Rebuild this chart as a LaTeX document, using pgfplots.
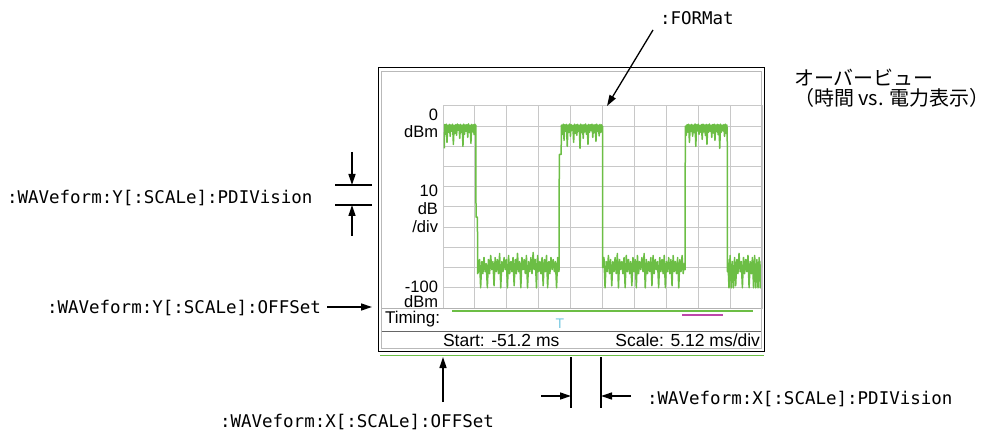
\documentclass[border=0pt]{standalone}
\usepackage{fontspec}
\setmainfont{Liberation Sans}
\newfontfamily\mono{DejaVu Sans Mono}
\newfontfamily\jp{Noto Sans CJK JP}
\usepackage{pgfplots}
\pgfplotsset{compat=1.18}
\usetikzlibrary{arrows.meta}
\definecolor{trace}{RGB}{108,190,69}
\definecolor{gridc}{RGB}{200,200,200}
\definecolor{mag}{RGB}{190,70,170}
\definecolor{cyt}{RGB}{120,200,225}
\begin{document}
\begin{tikzpicture}
\path[use as bounding box] (0pt,0pt) rectangle (1008pt,-435pt);
\begin{axis}[at={(443pt,-308pt)}, anchor=south west, scale only axis,
  width=319pt, height=202pt, xmin=0, xmax=10, ymin=-100, ymax=0,
  xtick={0,1,...,10}, ytick={-100,-90,...,0}, xticklabels={}, yticklabels={},
  grid=major, major tick length=0pt,
  grid style={gridc, line width=1pt}, axis line style={gridc, line width=1pt}]
\addplot[trace, line width=1.5pt, line join=round] coordinates {
(0.04,-21)
(0.05,-9.2)(0.075,-14)(0.1,-9.0)(0.125,-18)(0.15,-9.5)(0.175,-13)(0.2,-9.1)(0.225,-15)(0.25,-9.4)(0.275,-12.5)
(0.3,-9.0)(0.325,-19)(0.35,-9.6)(0.375,-13.5)(0.4,-9.2)(0.425,-14.5)(0.45,-8.9)(0.475,-12)(0.5,-9.3)(0.525,-16)
(0.55,-9.1)(0.575,-13)(0.6,-9.5)(0.625,-20)(0.65,-9.0)(0.675,-14)(0.7,-9.4)(0.725,-12.5)(0.75,-9.2)(0.775,-15.5)
(0.8,-8.9)(0.825,-13)(0.85,-9.6)(0.875,-18.5)(0.9,-9.1)(0.925,-12.8)(0.95,-9.3)(0.975,-14.2)(1.0,-9.0)(1.025,-13)
(1.03,-9.5)(1.035,-55)(1.08,-55)(1.085,-83)
(1.11,-82)(1.145,-76)(1.18,-90)(1.215,-77)(1.25,-83)(1.285,-75)(1.32,-82)(1.355,-78)(1.39,-90)(1.425,-76)
(1.46,-83)(1.495,-74)(1.53,-81)(1.565,-77)(1.60,-89)(1.635,-75)(1.67,-82)(1.705,-76)(1.74,-83)(1.775,-73)
(1.81,-90)(1.845,-77)(1.88,-82)(1.915,-75)(1.95,-81)(1.985,-76)(2.02,-90)(2.055,-74)(2.09,-83)(2.125,-77)
(2.16,-82)(2.195,-75)(2.23,-89)(2.265,-76)(2.30,-83)(2.335,-73)(2.37,-82)(2.405,-77)(2.44,-90)(2.475,-75)
(2.51,-81)(2.545,-76)(2.58,-83)(2.615,-74)(2.65,-90)(2.685,-77)(2.72,-82)(2.755,-75)(2.79,-83)(2.825,-72.5)
(2.86,-81)(2.895,-76)(2.93,-90)(2.965,-74)(3.00,-82)(3.035,-77)(3.07,-83)(3.105,-75)(3.14,-89)(3.175,-76)
(3.21,-82)(3.245,-74)(3.28,-90)(3.315,-77)(3.35,-83)(3.385,-75)(3.42,-81)(3.455,-76)(3.49,-82)(3.525,-77)
(3.56,-90)(3.595,-75)(3.63,-82)
(3.64,-81)(3.645,-24)(3.705,-24)(3.71,-9.5)
(3.72,-9.5)(3.745,-14)(3.77,-9.0)(3.795,-17)(3.82,-9.3)(3.845,-12.5)(3.87,-9.1)(3.895,-20)(3.92,-9.4)(3.945,-13)
(3.97,-8.9)(3.995,-15)(4.02,-9.2)(4.045,-12)(4.07,-9.6)(4.095,-18)(4.12,-9.0)(4.145,-13.5)(4.17,-9.3)(4.195,-14.5)
(4.22,-9.1)(4.245,-12.5)(4.27,-9.5)(4.295,-21)(4.32,-9.0)(4.345,-13)(4.37,-9.4)(4.395,-16)(4.42,-9.2)(4.445,-12.8)
(4.47,-8.9)(4.495,-14)(4.52,-9.5)(4.545,-19)(4.57,-9.1)(4.595,-13)(4.62,-9.3)(4.645,-12.2)(4.67,-9.0)(4.695,-15.5)
(4.72,-9.4)(4.745,-13.2)(4.77,-9.2)(4.795,-17.5)(4.82,-9.0)(4.845,-12.6)(4.87,-9.5)(4.895,-14.8)(4.92,-9.1)(4.945,-13)
(4.97,-9.3)(4.995,-12)
(5.0,-10)(5.005,-80)
(5.01,-80)(5.045,-75)(5.08,-90)(5.115,-77)(5.15,-82)(5.185,-74)(5.22,-83)(5.255,-76)(5.29,-89)(5.325,-77)
(5.36,-82)(5.395,-75)(5.43,-83)(5.465,-73)(5.50,-90)(5.535,-76)(5.57,-81)(5.605,-77)(5.64,-83)(5.675,-75)
(5.71,-90)(5.745,-74)(5.78,-82)(5.815,-76)(5.85,-83)(5.885,-77)(5.92,-89)(5.955,-75)(5.99,-82)(6.025,-76)
(6.06,-90)(6.095,-74)(6.13,-83)(6.165,-77)(6.20,-81)(6.235,-75)(6.27,-82)(6.305,-73)(6.34,-90)(6.375,-76)
(6.41,-83)(6.445,-77)(6.48,-82)(6.515,-75)(6.55,-89)(6.585,-74)(6.62,-83)(6.655,-76)(6.69,-81)(6.725,-77)
(6.76,-90)(6.795,-75)(6.83,-82)(6.865,-76)(6.90,-83)(6.935,-74)(6.97,-90)(7.005,-77)(7.04,-82)(7.075,-75)
(7.11,-83)(7.145,-76)(7.18,-89)(7.215,-74)(7.25,-82)(7.285,-77)(7.32,-83)(7.355,-75)(7.39,-90)(7.425,-76)
(7.46,-82)(7.495,-74)(7.53,-83)(7.565,-78)
(7.59,-81)(7.595,-10)
(7.6,-10)(7.625,-14.5)(7.65,-9.2)(7.675,-13)(7.7,-9.0)(7.725,-18)(7.75,-9.4)(7.775,-12.6)(7.8,-9.1)(7.825,-15)
(7.85,-9.5)(7.875,-13.2)(7.9,-8.9)(7.925,-20)(7.95,-9.3)(7.975,-12.4)(8.0,-9.0)(8.025,-14)(8.05,-9.6)(8.075,-13)
(8.1,-9.2)(8.125,-16.5)(8.15,-9.0)(8.175,-12.8)(8.2,-9.4)(8.225,-14.6)(8.25,-9.1)(8.275,-19)(8.3,-9.3)(8.325,-13)
(8.35,-8.9)(8.375,-12.5)(8.4,-9.5)(8.425,-15.5)(8.45,-9.2)(8.475,-13.4)(8.5,-9.0)(8.525,-17)(8.55,-9.4)(8.575,-12.7)
(8.6,-9.1)(8.625,-14.2)(8.65,-9.3)(8.675,-21)(8.7,-9.0)(8.725,-13)(8.75,-9.5)(8.775,-12.3)(8.8,-9.2)(8.825,-15)
(8.85,-9.0)(8.875,-13.6)(8.9,-9.4)
(8.91,-13)(8.915,-82)
(8.93,-76)(8.965,-90)(9.0,-74)(9.035,-90)(9.07,-77)(9.105,-90)(9.14,-75)(9.175,-89)(9.21,-76)(9.245,-83)
(9.28,-73)(9.315,-82)(9.35,-77)(9.385,-90)(9.42,-75)(9.455,-83)(9.49,-76)(9.525,-82)(9.56,-74)(9.595,-90)
(9.63,-77)(9.665,-83)(9.70,-75)(9.735,-90)(9.77,-74)(9.805,-90)(9.84,-76)(9.875,-90)(9.91,-75)(9.945,-90)(9.98,-77)(10,-80)
};
\end{axis}
\begin{scope}[x=1pt, y=-1pt, every node/.style={inner sep=0pt, outer sep=0pt},
  arr/.style={-{Triangle[length=11pt,width=7pt]}, line width=1.3pt},
  sans/.style={font=\fontsize{16.5}{16.5}\selectfont},
  mn/.style={font=\mono\fontsize{17.5}{17.5}\selectfont}]
% screen frame
\draw[black, line width=1pt] (378,68) rectangle (764,351);
\draw[gray!55, line width=1pt] (381.5,71.5) rectangle (761,348);
\draw[gray!60, line width=1pt] (381.5,308.5) -- (761,308.5);
\draw[gray!80!black, line width=1pt] (381.5,331) -- (761,331);
\draw[trace, line width=1.5pt] (380,355.5) -- (764,355.5);
% y labels
\node[sans, anchor=base east] at (438,120.5) {0};
\node[sans, anchor=base east] at (438,138) {dBm};
\node[sans, anchor=base east] at (438,196.5) {10};
\node[sans, anchor=base east] at (438,215) {dB};
\node[sans, anchor=base east] at (438,233) {/div};
\node[sans, anchor=base east] at (438,292.5) {-100};
\node[sans, anchor=base east] at (438,307.5) {dBm};
% timing row
\node[font=\fontsize{17}{17}\selectfont, anchor=base west] at (385,323.5) {Timing:};
\draw[trace, line width=2pt] (452,311) -- (753,311);
\draw[mag, line width=1.6pt] (682,315) -- (723,315);
\node[anchor=base, text=cyt, font=\fontsize{14}{14}\selectfont] at (560,328) {T};
% status row
\node[font=\fontsize{17.5}{17.5}\selectfont, anchor=base west] at (443,346.5) {Start: -51.2 ms};
\node[font=\fontsize{17.5}{17.5}\selectfont, anchor=base east] at (760,346.5) {Scale: 5.12 ms/div};
% mono annotations
\node[mn, anchor=base west] at (7,204) {:WAVeform:Y[:SCALe]:PDIVision};
\node[mn, anchor=base west] at (47,313) {:WAVeform:Y[:SCALe]:OFFSet};
\node[mn, anchor=base west] at (220,427) {:WAVeform:X[:SCALe]:OFFSet};
\node[mn, anchor=base west] at (647,404) {:WAVeform:X[:SCALe]:PDIVision};
\node[mn, anchor=base west] at (660,25) {:FORMat};
% arrows
\draw[arr] (653,30) -- (607,106);
\draw[arr] (352,152) -- (352,185);
\draw[line width=1.2pt] (335,185) -- (372,185);
\draw[line width=1.2pt] (335,205) -- (372,205);
\draw[arr] (352,236) -- (352,205);
\draw[arr] (327,307) -- (372,307);
\draw[arr] (443,402) -- (443,357);
\draw[line width=1.2pt] (571,357) -- (571,408);
\draw[line width=1.2pt] (601,357) -- (601,408);
\draw[arr] (541,396) -- (571,396);
\draw[arr] (631,396) -- (601,396);
% Japanese
\node[font=\jp\fontsize{20}{20}\selectfont, anchor=base west] at (794,85.5) {オーバービュー};
\node[font=\jp\fontsize{20}{20}\selectfont, anchor=base west] at (794,105.5) {（時間 vs. 電力表示）};
\end{scope}
\end{tikzpicture}
\end{document}
